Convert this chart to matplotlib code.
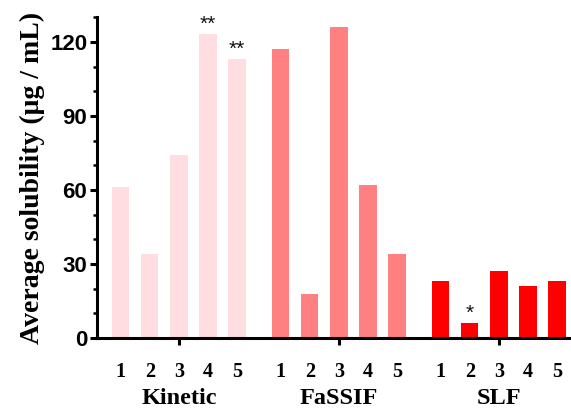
import matplotlib

matplotlib.use("Agg")
import matplotlib.pyplot as plt  # noqa: E402
from matplotlib.ticker import MultipleLocator  # noqa: E402
import matplotlib.transforms as mtransforms  # noqa: E402

groups = ["Kinetic", "FaSSIF", "SLF"]
samples = ["1", "2", "3", "4", "5"]
kinetic = [61, 34, 74, 123, 113]
fassif = [117, 18, 126, 62, 34]
slf = [23, 6, 27, 21, 23]
stars = {"Kinetic": ["", "", "", "**", "**"],
         "FaSSIF": ["", "", "", "", ""],
         "SLF": ["", "*", "", "", ""]}
colors = ["#FFDDE0", "#FF8080", "#FF0000"]

SERIF = ["Liberation Serif", "DejaVu Serif"]
SANS = ["Liberation Sans", "DejaVu Sans"]

fig = plt.figure(figsize=(5.71, 4.09), dpi=100)
ax = fig.add_axes([0.170, 0.1736, 0.83, 0.7844])

values = [kinetic, fassif, slf]
group_step = 5.5
trans = mtransforms.blended_transform_factory(ax.transData, ax.transAxes)
for gi, (name, vals, col) in enumerate(zip(groups, values, colors)):
    xs = [gi * group_step + i for i in range(len(vals))]
    ax.bar(xs, vals, width=0.6, color=col, edgecolor="none")
    for x, v, s in zip(xs, vals, stars[name]):
        if s:
            ax.text(x, v + 0.3, s, ha="center", va="bottom", fontsize=15,
                    family=SANS, color="#111111")
    for x, lab in zip(xs, samples):
        ax.text(x, -0.105, lab, transform=trans, ha="center", va="center",
                fontsize=14.5, fontweight="bold", family=SERIF)
    ax.text(gi * group_step + 2, -0.19, name, transform=trans, ha="center",
            va="center", fontsize=17.5, fontweight="bold", family=SERIF)

ax.set_xlim(-0.81, 15.48)
ax.set_ylim(0, 130)
ax.set_xticks([2, 7.5, 13])
ax.set_xticklabels([])
ax.yaxis.set_major_locator(MultipleLocator(30))
ax.yaxis.set_minor_locator(MultipleLocator(10))
ax.set_yticks([0, 30, 60, 90, 120])

for side in ["top", "right"]:
    ax.spines[side].set_visible(False)
for side in ["left", "bottom"]:
    ax.spines[side].set_linewidth(2.2)

ax.tick_params(axis="both", which="major", direction="out", length=5, width=2.2)
ax.tick_params(axis="y", which="minor", direction="out", length=3, width=1.8)
ax.tick_params(axis="y", which="major", pad=2)
for lab in ax.get_yticklabels():
    lab.set_fontweight("bold")
    lab.set_fontsize(16)
    lab.set_family(SANS)

ax.set_ylabel("Average solubility (μg / mL)", fontsize=20, fontweight="bold",
              family=SERIF, labelpad=4)

fig.savefig("out.png", dpi=100)
